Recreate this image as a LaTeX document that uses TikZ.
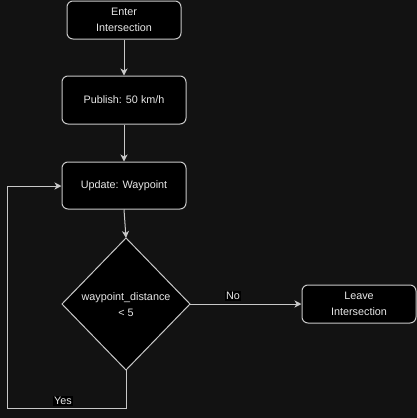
\documentclass[tikz,border=0pt]{standalone}
\usepackage{fontspec}
\setmainfont{Liberation Sans}
\usetikzlibrary{shapes.geometric,arrows.meta}
\definecolor{bg}{HTML}{121212}
\definecolor{edge}{HTML}{C8C8C8}
\definecolor{ink}{HTML}{E8E8E8}
\tikzset{
  box/.style={draw=edge, fill=black, rounded corners=6pt, line width=1pt,
    text=ink, font=\fontsize{10.8}{16}\selectfont, align=center,
    inner sep=0pt},
  decision/.style={draw=edge, fill=black, line width=1pt, text=ink,
    font=\fontsize{10.8}{16}\selectfont, align=center, inner sep=0pt},
  flow/.style={draw=edge, line width=1pt, -{Stealth[length=7pt,width=7pt,inset=2pt]}},
  tag/.style={fill=black, text=ink, font=\fontsize{10.8}{13}\selectfont, inner sep=1pt}
}
\begin{document}
\begin{tikzpicture}[x=1pt,y=-1pt]
  \fill[bg] (0,0) rectangle (417,418);
  \useasboundingbox (0,0) rectangle (417,418);

  \node[box, minimum width=114pt, minimum height=38pt] (enter) at (124,20) {Enter\\Intersection};
  \node[box, minimum width=124pt, minimum height=48pt] (pub) at (124,100) {Publish: 50 km/h};
  \node[box, minimum width=124pt, minimum height=47pt] (upd) at (124,185.5) {Update: Waypoint};
  \draw[decision] (126,238) coordinate (dtop) -- (190,304) coordinate (dright)
    -- (126,370) coordinate (dbot) -- (62,304) coordinate (dleft) -- cycle;
  \node[text=ink, font=\fontsize{10.8}{16}\selectfont, align=center] (dtext) at (126,305) {waypoint\_distance\\< 5};
  \node[box, minimum width=114pt, minimum height=38pt] (leave) at (359,304) {Leave\\Intersection};

  \draw[flow] (enter) -- (pub);
  \draw[flow] (pub) -- (upd);
  \draw[flow] (upd.south) -- (dtop);
  \draw[flow] (dright) -- (leave.west);
  \coordinate (c1) at (126,408);
  \coordinate (c2) at (7,408);
  \coordinate (c3) at (7,186);
  \draw[flow] (dbot) -- (c1) -- (c2) -- (c3) -- (upd.west |- c3);

  \node[tag] (no) at (233,296) {No};
  \node[tag] (yes) at (63,401) {Yes};
\end{tikzpicture}
\end{document}
